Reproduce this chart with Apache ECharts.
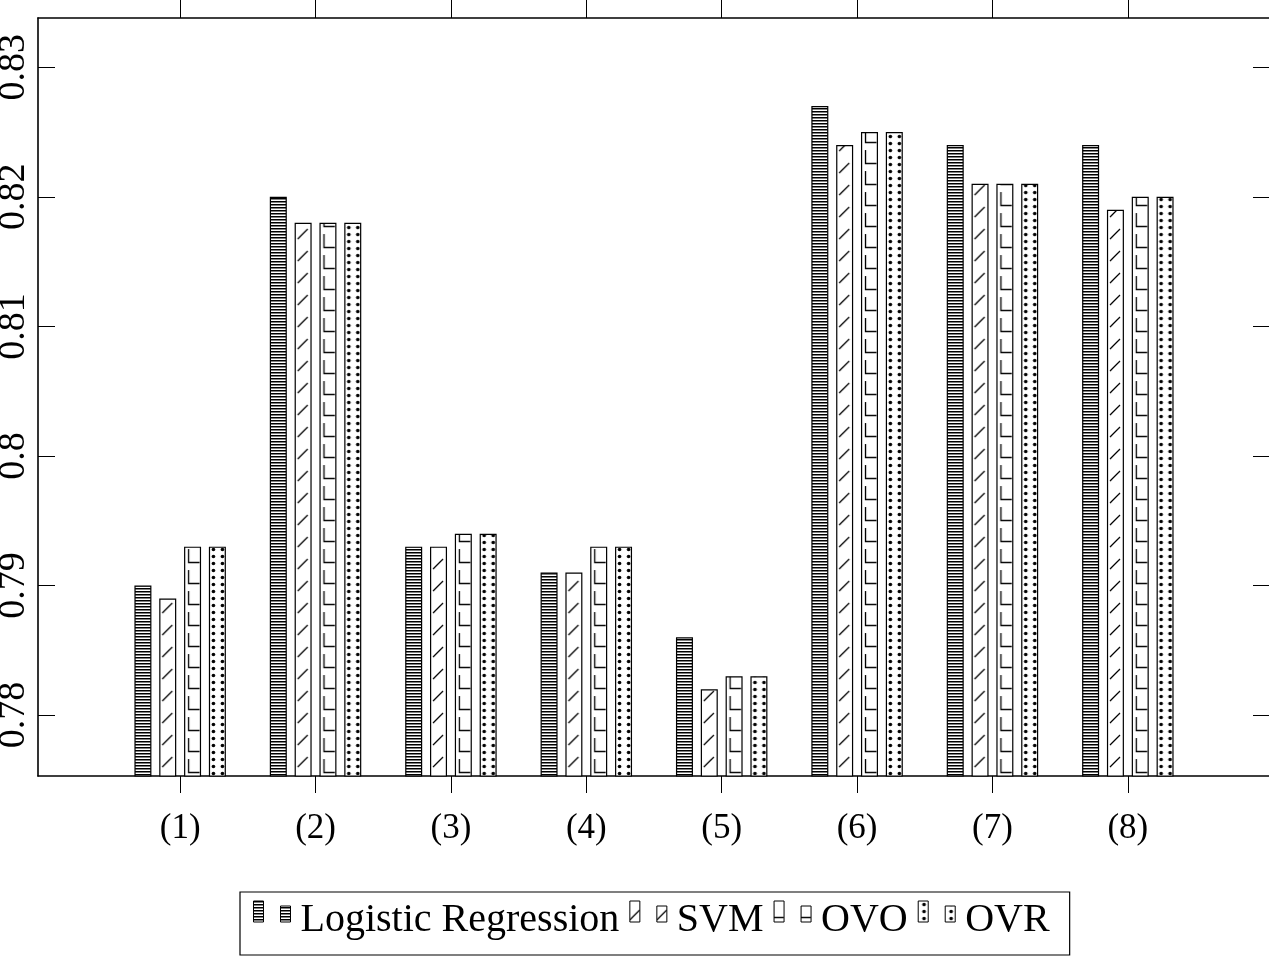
<!DOCTYPE html>
<html><head><meta charset="utf-8">
<script src="https://cdn.jsdelivr.net/npm/echarts@6/dist/echarts.min.js"></script>
<style>html,body{margin:0;padding:0;background:#fff}#c{width:1269px;height:957px}</style>
</head><body><div id="c"></div>
<script>
// ---- data ----
const categories = ['(1)', '(2)', '(3)', '(4)', '(5)', '(6)', '(7)', '(8)'];
const seriesNames = ['Logistic Regression', 'SVM', 'OVO', 'OVR'];
const lrValues  = [0.790, 0.820, 0.793, 0.791, 0.786, 0.827, 0.824, 0.824];
const svmValues = [0.789, 0.818, 0.793, 0.791, 0.782, 0.824, 0.821, 0.819];
const ovoValues = [0.793, 0.818, 0.794, 0.793, 0.783, 0.825, 0.821, 0.820];
const ovrValues = [0.793, 0.818, 0.794, 0.793, 0.783, 0.825, 0.821, 0.820];
const yTicks = [0.78, 0.79, 0.80, 0.81, 0.82, 0.83];

// ---- layout constants ----
const FONT = 'Liberation Serif';
const GRID_L = 38, GRID_T = 18, GRID_W = 1232, GRID_H = 758;
const XMIN = -0.05, XMAX = 9.05, YMIN = 0.7753, YMAX = 0.8338;
const PX = GRID_W / (XMAX - XMIN);
const BW = 17, GAP = 0.46;
const xPositions = categories.map((c, i) => i + 1);

function barLeft(k) {
  const c = GRID_L + (1 - XMIN) * PX;
  const tot = 4 * BW + 3 * GAP * BW;
  return c - tot / 2 + k * (BW + GAP * BW);
}
function mod(a, m) { return ((a % m) + m) % m; }
function tile(w, h, draw) {
  const c = document.createElement('canvas');
  c.width = w; c.height = h;
  const g = c.getContext('2d');
  g.fillStyle = '#fff'; g.fillRect(0, 0, w, h);
  g.strokeStyle = '#000'; g.fillStyle = '#000';
  draw(g);
  return c;
}
const sx = (PX / 5) / 27;
const patLR = { image: tile(4, 3, g => { g.fillRect(0, 0, 4, 1.5); }), repeat: 'repeat' };
const patSVM = {
  image: tile(27, 22, g => { g.lineWidth = 1.3; g.beginPath(); g.moveTo(3, 19); g.lineTo(13, 9); g.stroke(); }),
  repeat: 'repeat', x: mod(barLeft(1), PX / 5), scaleX: sx
};
const patOVO = {
  image: tile(27, 21, g => { g.lineWidth = 1.3; g.beginPath(); g.moveTo(4.5, 3); g.lineTo(4.5, 16.5); g.lineTo(15.5, 16.5); g.stroke(); }),
  repeat: 'repeat', x: mod(barLeft(2), PX / 5), scaleX: sx
};
const patOVR = {
  image: tile(9, 7, g => { g.beginPath(); g.arc(4.5, 3.5, 1.8, 0, Math.PI * 2); g.fill(); }),
  repeat: 'repeat', x: mod(barLeft(3), PX / 15), scaleX: sx
};
const allValues = [lrValues, svmValues, ovoValues, ovrValues];
const patterns = [patLR, patSVM, patOVO, patOVR];

const axisLine = { show: true, onZero: false, lineStyle: { color: '#000', width: 1.6 } };
const tickStyle = { color: '#000', width: 1 };

const chart = echarts.init(document.getElementById('c'), null, { renderer: 'canvas' });
chart.setOption({
  animation: false,
  backgroundColor: '#fff',
  grid: { left: GRID_L, top: GRID_T, width: GRID_W, height: GRID_H, containLabel: false, outerBoundsMode: 'none' },
  legend: {
    left: 240, top: 892,
    orient: 'horizontal',
    padding: [8, 20, 15, 13],
    itemGap: 10,
    itemWidth: 42, itemHeight: 38,
    icon: 'path://M0,0h10v21h-10zM27,5h10v16h-10zM42,38',
    borderColor: '#000', borderWidth: 1.2,
    itemStyle: { borderColor: '#000', borderWidth: 1 },
    textStyle: { fontFamily: FONT, fontSize: 40, color: '#000' },
    selectedMode: false,
    data: seriesNames
  },
  xAxis: [
    {
      type: 'value', position: 'bottom', min: XMIN, max: XMAX,
      axisLine: axisLine,
      axisTick: { show: true, inside: false, length: 17, customValues: xPositions, lineStyle: tickStyle },
      axisLabel: {
        show: true, customValues: xPositions, margin: 35,
        formatter: v => categories[Math.round(v) - 1] || '',
        fontFamily: FONT, fontSize: 35, color: '#000'
      },
      splitLine: { show: false }
    },
    {
      type: 'value', position: 'top', min: XMIN, max: XMAX,
      axisLine: axisLine,
      axisTick: { show: true, inside: false, length: 18, customValues: xPositions, lineStyle: tickStyle },
      axisLabel: { show: false },
      splitLine: { show: false }
    }
  ],
  yAxis: [
    {
      type: 'value', position: 'left', min: YMIN, max: YMAX,
      axisLine: axisLine,
      axisTick: { show: true, inside: true, length: 17, customValues: yTicks, lineStyle: tickStyle },
      axisLabel: {
        show: true, customValues: yTicks, rotate: 90, margin: 5,
        formatter: v => String(Number(v.toFixed(2))),
        fontFamily: FONT, fontSize: 38, color: '#000'
      },
      splitLine: { show: false }
    },
    {
      type: 'value', position: 'right', min: YMIN, max: YMAX,
      axisLine: axisLine,
      axisTick: { show: true, inside: true, length: 17, customValues: yTicks, lineStyle: tickStyle },
      axisLabel: { show: false },
      splitLine: { show: false }
    }
  ],
  series: seriesNames.map((n, k) => ({
    type: 'bar', name: n,
    xAxisIndex: 0, yAxisIndex: 0,
    data: allValues[k].map((v, i) => [xPositions[i], v]),
    barWidth: BW, barGap: (GAP * 100) + '%',
    clip: true,
    itemStyle: { color: patterns[k], borderColor: '#000', borderWidth: 1.2 },
    emphasis: { disabled: true }
  }))
});
</script></body></html>
